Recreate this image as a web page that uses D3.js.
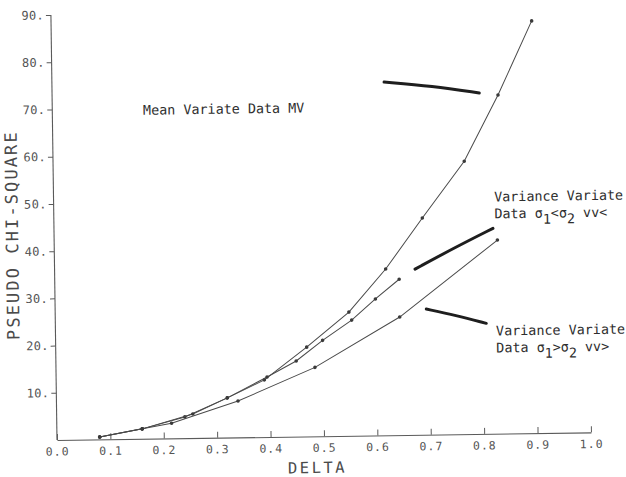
<!DOCTYPE html>
<html>
<head>
<meta charset="utf-8">
<script src="https://cdn.jsdelivr.net/npm/d3@7"></script>
<style>
  body { margin: 0; background: #fff; }
  text { font-family: "DejaVu Sans Mono", "Liberation Mono", monospace; }
</style>
</head>
<body>
<svg id="chart" width="626" height="477"></svg>
<script>
// Axis ticks
const deltaTicks = [0.0, 0.1, 0.2, 0.3, 0.4, 0.5, 0.6, 0.7, 0.8, 0.9, 1.0];
const chiTicks = [10, 20, 30, 40, 50, 60, 70, 80, 90];

// Mean Variate Data MV
const mvDelta = [0.08, 0.16, 0.24, 0.32, 0.39, 0.47, 0.55, 0.62, 0.69, 0.77, 0.835, 0.90];
const mvChi   = [0.5, 2.1, 4.5, 8.4, 12.1, 18.9, 26.2, 35.2, 45.9, 57.8, 71.7, 87.3];

// Variance Variate Data sigma1 < sigma2 (vv<)
const vvLtDelta = [0.08, 0.16, 0.255, 0.32, 0.395, 0.45, 0.50, 0.555, 0.60, 0.645];
const vvLtChi   = [0.5, 2.1, 5.1, 8.4, 12.7, 16.0, 20.3, 24.5, 28.9, 33.0];

// Variance Variate Data sigma1 > sigma2 (vv>)
const vvGtDelta = [0.08, 0.16, 0.215, 0.34, 0.485, 0.645, 0.83];
const vvGtChi   = [0.5, 2.1, 3.2, 7.7, 14.6, 25.0, 41.0];

// Hand-drawn pointer strokes (delta, chi-square)
const pointerMV = [[0.622, 74.8], [0.712, 73.8], [0.800, 72.2]];
const pointerLt = [[0.675, 35.1], [0.751, 39.6], [0.822, 43.5]];
const pointerGt = [[0.695, 26.6], [0.750, 25.2], [0.807, 23.4]];

const svg = d3.select("#chart");
const x0 = 57, x1 = 591, yBase = 440, yTop = 15;

const x = d3.scaleLinear().domain([0, 1]).range([x0, x1]);
const y = d3.scaleLinear().domain([0, 90]).range([yBase, yTop]);

// the sheet sits slightly tilted
const g = svg.append("g").attr("transform", `rotate(-0.82, ${x0}, ${yBase})`);

const ink = "#3a3a3a";
const axisInk = "#5a5a5a";

// x axis: ticks point up into the plot
const xAxis = d3.axisBottom(x)
  .tickValues(deltaTicks)
  .tickFormat(d3.format(".1f"))
  .tickSize(-6)
  .tickSizeOuter(0)
  .tickPadding(7.5);
const gx = g.append("g").attr("transform", `translate(0,${yBase})`).call(xAxis);
gx.select(".domain").attr("stroke", axisInk).attr("stroke-width", 1.1);
gx.selectAll(".tick line").attr("stroke", axisInk);
gx.selectAll(".tick text")
  .attr("fill", "#555").attr("font-size", 11.5).attr("letter-spacing", 1)
  .style("font-family", "'DejaVu Sans Mono', monospace");

// y axis
const yAxis = d3.axisLeft(y)
  .tickValues(chiTicks)
  .tickFormat(d => d + ".")
  .tickSize(5)
  .tickSizeOuter(0)
  .tickPadding(2);
const gy = g.append("g").attr("transform", `translate(${x0},0)`).call(yAxis);
gy.select(".domain").attr("stroke", axisInk).attr("stroke-width", 1.1)
  .attr("d", `M0,${yBase}V${y(90)}`);
gy.selectAll(".tick line").attr("stroke", axisInk);
gy.selectAll(".tick text")
  .attr("fill", "#555").attr("font-size", 12).attr("letter-spacing", 0.3)
  .style("font-family", "'DejaVu Sans Mono', monospace");

// axis titles
g.append("text")
  .attr("transform", `translate(${x0 - 36},${y(43.5)}) rotate(-90)`)
  .attr("text-anchor", "middle")
  .attr("font-size", 17).attr("letter-spacing", 2.1)
  .attr("fill", "#4a4a4a")
  .text("PSEUDO CHI-SQUARE");

g.append("text")
  .attr("x", x(0.487)).attr("y", yBase + 36.7)
  .attr("text-anchor", "middle")
  .attr("font-size", 15.5).attr("letter-spacing", 2.5)
  .attr("fill", "#4a4a4a")
  .text("DELTA");

// curves
const series = [
  { delta: mvDelta, chi: mvChi },
  { delta: vvLtDelta, chi: vvLtChi },
  { delta: vvGtDelta, chi: vvGtChi }
];
const line = d3.line().x(d => x(d[0])).y(d => y(d[1]));

series.forEach(s => {
  const pts = s.delta.map((d, i) => [d, s.chi[i]]);
  g.append("path")
    .datum(pts)
    .attr("d", line)
    .attr("fill", "none")
    .attr("stroke", "#4a4a4a")
    .attr("stroke-width", 1);
  g.selectAll(null)
    .data(pts)
    .enter().append("circle")
    .attr("cx", d => x(d[0]))
    .attr("cy", d => y(d[1]))
    .attr("r", 1.8)
    .attr("fill", ink);
});

// pointer strokes
const curve = d3.line().x(d => x(d[0])).y(d => y(d[1])).curve(d3.curveBasis);
[pointerMV, pointerLt, pointerGt].forEach(p => {
  g.append("path")
    .attr("d", curve(p))
    .attr("fill", "none")
    .attr("stroke", "#1e1e1e")
    .attr("stroke-width", 3)
    .attr("stroke-linecap", "round");
});

// annotations
const note = (dx, cy) => g.append("text")
  .attr("x", x(dx)).attr("y", y(cy))
  .attr("font-size", 13.4)
  .attr("fill", "#2e2e2e");

note(0.170, 68.6).text("Mean Variate Data MV");

note(0.825, 49.2).text("Variance Variate");
const lt = note(0.825, 45.6);
lt.append("tspan").text("Data σ");
lt.append("tspan").attr("dy", 6).text("1");
lt.append("tspan").attr("dy", -6).text("<σ");
lt.append("tspan").attr("dy", 6).text("2");
lt.append("tspan").attr("dy", -6).text(" vv<");

note(0.825, 20.8).text("Variance Variate");
const gt = note(0.825, 17.2);
gt.append("tspan").text("Data σ");
gt.append("tspan").attr("dy", 6).text("1");
gt.append("tspan").attr("dy", -6).text(">σ");
gt.append("tspan").attr("dy", 6).text("2");
gt.append("tspan").attr("dy", -6).text(" vv>");
</script>
</body>
</html>
